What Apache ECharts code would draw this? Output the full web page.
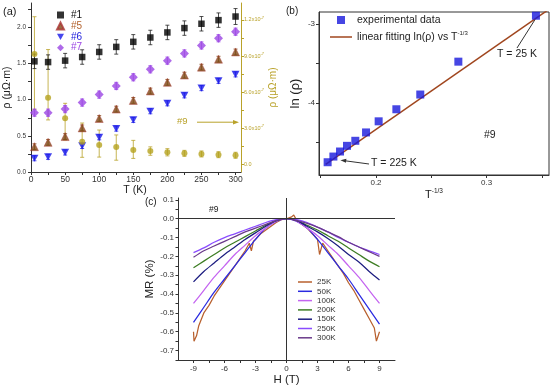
<!DOCTYPE html>
<html><head><meta charset="utf-8">
<script src="https://cdn.jsdelivr.net/npm/echarts@6/dist/echarts.min.js"></script>
<style>html,body{margin:0;padding:0;background:#fff}#c{width:550px;height:392px}</style>
</head><body><div id="c"></div>
<script>
// ---------- Panel (a) data ----------
const temps = [5,25,50,75,100,125,150,175,200,225,250,275,300];
const rho1 = [1.53,1.52,1.54,1.59,1.66,1.73,1.80,1.86,1.93,1.99,2.05,2.10,2.15];
const err1 = [0.10,0.10,0.10,0.10,0.10,0.10,0.10,0.10,0.10,0.10,0.10,0.10,0.11];
const rho5 = [0.35,0.41,0.49,0.61,0.74,0.87,0.99,1.12,1.24,1.34,1.45,1.56,1.66];
const err5 = [0.04,0.04,0.04,0.04,0.04,0.04,0.04,0.04,0.04,0.04,0.04,0.04,0.04];
const rho6 = [0.19,0.21,0.27,0.36,0.48,0.60,0.72,0.84,0.95,1.06,1.16,1.26,1.35];
const err6 = [0.035,0.035,0.035,0.035,0.035,0.035,0.035,0.035,0.035,0.035,0.035,0.035,0.035];
const rho7 = [0.82,0.82,0.87,0.96,1.07,1.19,1.31,1.42,1.54,1.64,1.75,1.85,1.94];
const err7 = [0.05,0.05,0.05,0.05,0.05,0.05,0.05,0.05,0.05,0.05,0.05,0.05,0.05];
const rho9 = [9.17,5.54,3.82,1.88,1.60,1.44,1.19,1.10,1.00,0.91,0.86,0.80,0.75];
const err9Up = [3.1,4.0,1.25,1.55,1.25,1.0,0.8,0.35,0.3,0.25,0.25,0.25,0.25];
const err9Dn = [4.6,1.85,1.8,1.3,1.0,1.1,0.7,0.35,0.3,0.25,0.25,0.25,0.25];
const xTicksA = [0,50,100,150,200,250,300];
const yTicksA = [0,0.5,1.0,1.5,2.0];
const rightTicks = [0,3,6,9,12];
const rightLabels = ['0.0','3.0x10','6.0x10','9.0x10','1.2x10'];

// ---------- Panel (b) data ----------
const invT = [0.1563,0.1615,0.1675,0.1738,0.1813,0.1910,0.2024,0.2184,0.2400,0.2744,0.3445];
const lnRho = [-4.753,-4.681,-4.617,-4.545,-4.481,-4.375,-4.234,-4.081,-3.894,-3.477,-2.894];
const fitX = [0.1545,0.3560];
const fitY = [-4.78,-2.815];

// ---------- Panel (c) data ----------
const hField = [-9,-8,-7,-6,-5,-4,-3,-2,-1,0,1,2,3,4,5,6,7,8,9];
const h25 = [-9,-8.95,-8.7,-8.5,-8,-7.5,-7,-6.5,-6,-5.5,-5,-4.5,-4,-3.6,-3.4,-3.2,-3,-2.5,-2,-1.5,-1,-0.5,0,0.5,0.7,1,1.5,2,2.5,3,3.2,3.5,4,4.5,5,5.5,6,6.5,7,7.5,8,8.5,8.7,9];
const mr25 = [-0.60,-0.65,-0.62,-0.57,-0.50,-0.46,-0.41,-0.37,-0.33,-0.29,-0.25,-0.21,-0.17,-0.13,-0.17,-0.12,-0.11,-0.08,-0.06,-0.04,-0.02,-0.005,0,0.01,0.02,-0.01,-0.03,-0.05,-0.08,-0.11,-0.19,-0.13,-0.17,-0.21,-0.25,-0.29,-0.34,-0.38,-0.43,-0.48,-0.53,-0.58,-0.65,-0.60];
const mr50  = [-0.55,-0.47,-0.39,-0.32,-0.25,-0.18,-0.11,-0.05,-0.015,0,-0.015,-0.05,-0.11,-0.18,-0.25,-0.32,-0.40,-0.48,-0.56];
const mr100 = [-0.45,-0.38,-0.31,-0.25,-0.19,-0.14,-0.09,-0.05,-0.015,0,-0.015,-0.05,-0.09,-0.14,-0.19,-0.25,-0.31,-0.38,-0.45];
const mr200 = [-0.26,-0.225,-0.19,-0.155,-0.125,-0.095,-0.065,-0.035,-0.01,0,-0.01,-0.035,-0.06,-0.09,-0.12,-0.155,-0.19,-0.225,-0.255];
const mr150 = [-0.335,-0.28,-0.235,-0.19,-0.15,-0.11,-0.075,-0.04,-0.01,0,-0.01,-0.04,-0.07,-0.105,-0.145,-0.19,-0.23,-0.28,-0.325];
const mr250 = [-0.18,-0.155,-0.125,-0.10,-0.08,-0.06,-0.04,-0.02,-0.005,0,-0.005,-0.02,-0.045,-0.07,-0.10,-0.125,-0.15,-0.17,-0.19];
const mr300 = [-0.205,-0.17,-0.145,-0.12,-0.095,-0.07,-0.05,-0.03,-0.01,0,-0.01,-0.025,-0.045,-0.07,-0.095,-0.125,-0.15,-0.175,-0.20];
const mrNames = ['25K','50K','100K','200K','150K','250K','300K'];

const FONT = 'Liberation Sans, Arial, sans-serif';
const GOLD = '#b9a22a';
const chart = echarts.init(document.getElementById('c'), null, {renderer:'canvas'});

function errRender(params, api) {
  const x = api.value(0), lo = api.value(1), hi = api.value(2);
  const p1 = api.coord([x, hi]), p2 = api.coord([x, lo]);
  const w = 2;
  const style = {stroke: api.visual('color'), lineWidth: 0.8};
  return {type:'group', children:[
    {type:'line', shape:{x1:p1[0],y1:p1[1],x2:p2[0],y2:p2[1]}, style},
    {type:'line', shape:{x1:p1[0]-w,y1:p1[1],x2:p1[0]+w,y2:p1[1]}, style},
    {type:'line', shape:{x1:p2[0]-w,y1:p2[1],x2:p2[0]+w,y2:p2[1]}, style}]};
}
function errSeries(vals, up, dn, color, yIdx) {
  return {type:'custom', renderItem: errRender, xAxisIndex:0, yAxisIndex:yIdx,
    itemStyle:{color}, encode:{x:0, y:[1,2]}, silent:true, z:1,
    data: temps.map((t,i)=>[t, vals[i]-dn[i], vals[i]+up[i]])};
}
const pairs = (xs, ys) => xs.map((x,i)=>[x, ys[i]]);
const downTri = 'path://M0,0 L10,0 L5,9 Z';

const mrColors = ['#b8602e','#2a2ae0','#c464f0','#3d7d23','#1c1c80','#8a4cff','#6a3a8a'];
const mrData = [pairs(h25,mr25), pairs(hField,mr50), pairs(hField,mr100), pairs(hField,mr200), pairs(hField,mr150), pairs(hField,mr250), pairs(hField,mr300)];

const series = [
  errSeries(rho9, err9Up, err9Dn, GOLD, 1),
  errSeries(rho1, err1, err1, '#222', 0),
  errSeries(rho5, err5, err5, '#8a4b1c', 0),
  errSeries(rho6, err6, err6, '#2020e8', 0),
  errSeries(rho7, err7, err7, '#a455e8', 0),
  {name:'#1', type:'scatter', xAxisIndex:0, yAxisIndex:0, symbol:'rect', symbolSize:6.5, symbolKeepAspect:true, itemStyle:{color:'#000'}, data:pairs(temps,rho1), z:3},
  {name:'#5', type:'scatter', xAxisIndex:0, yAxisIndex:0, symbol:'triangle', symbolSize:8, symbolKeepAspect:true, itemStyle:{color:'#7d4a16', borderColor:'#a33', borderWidth:0.5}, data:pairs(temps,rho5), z:3},
  {name:'#6', type:'scatter', xAxisIndex:0, yAxisIndex:0, symbol:downTri, symbolSize:8, symbolKeepAspect:true, itemStyle:{color:'#1818e8'}, data:pairs(temps,rho6), z:3},
  {name:'#7', type:'scatter', xAxisIndex:0, yAxisIndex:0, symbol:'diamond', symbolSize:9, symbolKeepAspect:true, itemStyle:{color:'#9b45e4'}, data:pairs(temps,rho7), z:3},
  {name:'#9', type:'scatter', xAxisIndex:0, yAxisIndex:1, symbol:'circle', symbolSize:6, itemStyle:{color:'#b5a21e'}, data:pairs(temps,rho9), z:3},
  {name:'experimental data', type:'scatter', xAxisIndex:1, yAxisIndex:2, symbol:'rect', symbolSize:8, symbolKeepAspect:true, itemStyle:{color:'#1818dc'}, data:pairs(invT,lnRho), z:3},
  {name:'fit', type:'line', xAxisIndex:1, yAxisIndex:2, symbol:'none', lineStyle:{color:'#a0461e', width:1.5}, itemStyle:{color:'#a0461e'}, data:pairs(fitX,fitY), z:2},
];
mrNames.forEach((n,i)=>{
  const s = {name:n, type:'line', xAxisIndex:2, yAxisIndex:3, symbol:'none', smooth: i===0?false:0.3,
    lineStyle:{color:mrColors[i], width:1.25}, itemStyle:{color:mrColors[i]}, data:mrData[i], z:2};
  if (i===0) s.markLine = {silent:true, symbol:['none','none'], animation:false, label:{show:false},
    lineStyle:{color:'#333', type:'solid', width:1}, data:[{xAxis:0},{yAxis:0}]};
  series.push(s);
});

const lblA = {fontFamily:FONT, color:'#333'};
const option = {
  animation:false,
  textStyle:{fontFamily:FONT},
  grid:[
    {left:29, top:3, width:212, height:169, show:false},
    {left:319, top:12, width:230, height:163, show:true, borderColor:'#333', borderWidth:1},
    {left:178, top:198, width:217, height:162, show:false}
  ],
  xAxis:[
    {gridIndex:0, type:'value', min:-3, max:308, name:'T (K)', nameLocation:'middle', nameGap:13,
     nameTextStyle:{fontSize:10.5, color:'#222'}, splitLine:{show:false},
     axisLine:{lineStyle:{color:'#333'}}, axisTick:{customValues:[0,25,50,75,100,125,150,175,200,225,250,275,300], length:3, lineStyle:{color:'#333'}},
     axisLabel:{customValues:xTicksA, fontSize:8.5, margin:3, ...lblA}},
    {gridIndex:1, type:'value', min:0.1485, max:0.3563, splitLine:{show:false},
     name:'{t|T}{s|-1/3}', nameLocation:'middle', nameGap:10,
     nameTextStyle:{rich:{t:{fontSize:11, color:'#222', fontFamily:FONT}, s:{fontSize:6.5, color:'#222', fontFamily:FONT, padding:[0,0,7,0]}}},
     axisLine:{lineStyle:{color:'#333'}}, axisTick:{customValues:[0.15,0.2,0.25,0.3,0.35], length:3, lineStyle:{color:'#333'}},
     axisLabel:{customValues:[0.2,0.3], fontSize:8, margin:4, ...lblA, formatter:v=>v.toFixed(1)}},
    {gridIndex:2, type:'value', min:-10.5, max:10.5, splitLine:{show:false},
     name:'H (T)', nameLocation:'middle', nameGap:14, nameTextStyle:{fontSize:11.5, color:'#222'},
     axisLine:{onZero:false, lineStyle:{color:'#333'}}, axisTick:{customValues:[-9,-7.5,-6,-4.5,-3,-1.5,0,1.5,3,4.5,6,7.5,9], length:3, lineStyle:{color:'#333'}},
     axisLabel:{customValues:[-9,-6,-3,0,3,6,9], fontSize:8, margin:5, ...lblA}}
  ],
  yAxis:[
    {gridIndex:0, type:'value', min:0, max:2.337, splitLine:{show:false},
     name:'ρ (μΩ·m)', nameLocation:'middle', nameGap:15, nameRotate:90, nameTextStyle:{fontSize:10.5, color:'#222'},
     axisLine:{show:true, lineStyle:{color:'#333'}},
     axisTick:{show:true, customValues:[0,0.25,0.5,0.75,1,1.25,1.5,1.75,2,2.25], length:3, lineStyle:{color:'#333'}},
     axisLabel:{customValues:yTicksA, fontSize:6.5, margin:3, ...lblA, formatter:v=>v.toFixed(1)}},
    {gridIndex:0, type:'value', position:'right', min:-0.64, max:13.41, splitLine:{show:false},
     name:'ρ (μΩ·m)', nameLocation:'middle', nameGap:27, nameRotate:90, nameTextStyle:{fontSize:10, color:GOLD},
     axisLine:{show:true, lineStyle:{color:GOLD}}, axisTick:{show:true, customValues:[0,1.5,3,4.5,6,7.5,9,10.5,12], length:3, lineStyle:{color:GOLD}},
     axisLabel:{customValues:rightTicks, margin:3, color:GOLD, fontFamily:FONT, fontSize:5.5,
       formatter:v=>{const i=rightTicks.indexOf(v); return i===0?'{a|0.0}':'{a|'+rightLabels[i]+'}{s|-7}';},
       rich:{a:{fontSize:5.5, color:GOLD, fontFamily:FONT}, s:{fontSize:4, color:GOLD, padding:[0,0,4,0]}}}},
    {gridIndex:1, type:'value', min:-4.915, max:-2.847, splitLine:{show:false},
     name:'ln (ρ)', nameLocation:'middle', nameGap:17, nameRotate:90, nameTextStyle:{fontSize:13, color:'#222'},
     axisLine:{lineStyle:{color:'#333'}}, axisTick:{customValues:[-4.5,-4,-3.5,-3], length:3, lineStyle:{color:'#333'}},
     axisLabel:{customValues:[-4,-3], fontSize:8, margin:4, ...lblA}},
    {gridIndex:2, type:'value', min:-0.75, max:0.11, splitLine:{show:false},
     name:'MR (%)', nameLocation:'middle', nameGap:21, nameRotate:90, nameTextStyle:{fontSize:11.5, color:'#222'},
     axisLine:{onZero:false, lineStyle:{color:'#333'}}, axisTick:{customValues:[-0.75,-0.7,-0.65,-0.6,-0.55,-0.5,-0.45,-0.4,-0.35,-0.3,-0.25,-0.2,-0.15,-0.1,-0.05,0,0.05,0.1], length:2.5, lineStyle:{color:'#333'}},
     axisLabel:{customValues:[-0.7,-0.6,-0.5,-0.4,-0.3,-0.2,-0.1,0,0.1], fontSize:8, margin:4, ...lblA, formatter:v=>v.toFixed(1)}}
  ],
  legend:[
    {orient:'vertical', left:56, top:10, padding:0, itemWidth:7, itemHeight:7, itemGap:0.9,
     textStyle:{fontSize:10, fontFamily:FONT, padding:[0,0,0,2]},
     data:[{name:'#1', textStyle:{color:'#111'}},{name:'#5', textStyle:{color:'#b3622d'}},{name:'#6', textStyle:{color:'#2222dd'}},{name:'#7', textStyle:{color:'#9b45e4'}}]},
    {orient:'vertical', left:337, top:14.5, padding:0, itemWidth:8, itemHeight:8,
     textStyle:{fontSize:10.5, fontFamily:FONT, color:'#222', padding:[0,0,0,7]},
     data:['experimental data']},
    {orient:'vertical', left:330, top:30.5, padding:0, itemWidth:22, itemHeight:1.5, icon:'rect',
     textStyle:{fontSize:10.5, fontFamily:FONT, color:'#222',
       rich:{t:{fontSize:10.5, fontFamily:FONT, color:'#222'}, s:{fontSize:6, fontFamily:FONT, color:'#222', padding:[0,0,7,0]}}},
     formatter:()=>'{t|linear fitting ln(ρ) vs T}{s|-1/3}',
     data:['fit']},
    {orient:'vertical', left:298, top:278, padding:0, itemWidth:14, itemHeight:1.5, icon:'rect', itemGap:1.3,
     textStyle:{fontSize:8, fontFamily:FONT, color:'#333'}, data:mrNames}
  ],
  series
};
chart.setOption(option);

// annotations positioned through the axes
const pA = (v, yi) => chart.convertToPixel({xAxisIndex:0, yAxisIndex:yi}, v);
const pB = v => chart.convertToPixel({xAxisIndex:1, yAxisIndex:2}, v);
const p25 = pB([invT[10], lnRho[10]]);
const p225 = pB([invT[1], lnRho[1]]);
const arrowY = pA([0, 3.5], 1)[1];
function arrowHead(x, y, dir, color) {
  return {type:'polygon', shape:{points:[[x,y],[x-dir*6,y-2.2],[x-dir*6,y+2.2]]}, style:{fill:color}};
}
const g = [
  {type:'text', left:3, top:6, style:{text:'(a)', fontSize:11, fontFamily:FONT, fill:'#222'}},
  {type:'text', left:286, top:6, style:{text:'(b)', fontSize:10, fontFamily:FONT, fill:'#222'}},
  {type:'text', left:145, top:197, style:{text:'(c)', fontSize:10, fontFamily:FONT, fill:'#222'}},
  {type:'text', left:177, top:arrowY-6, style:{text:'#9', fontSize:9.5, fontFamily:FONT, fill:GOLD}},
  {type:'line', shape:{x1:197, y1:arrowY, x2:234, y2:arrowY}, style:{stroke:GOLD, lineWidth:1}},
  arrowHead(239, arrowY, 1, GOLD),
  {type:'text', left:484, top:130, style:{text:'#9', fontSize:10.5, fontFamily:FONT, fill:'#222'}},
  {type:'text', left:209, top:205, style:{text:'#9', fontSize:8.5, fontFamily:FONT, fill:'#222'}},
  {type:'text', left:497, top:49, style:{text:'T = 25 K', fontSize:10.5, fontFamily:FONT, fill:'#222'}},
  {type:'line', shape:{x1:517, y1:48, x2:p25[0]-1, y2:p25[1]+4}, style:{stroke:'#333', lineWidth:1}},
  {type:'text', left:371, top:158, style:{text:'T = 225 K', fontSize:10.5, fontFamily:FONT, fill:'#222'}},
  {type:'line', shape:{x1:369, y1:164, x2:p225[0]+10, y2:p225[1]+4}, style:{stroke:'#333', lineWidth:1}},
  {type:'polygon', shape:{points:[[p225[0]+7, p225[1]+3.6],[p225[0]+13, p225[1]+2.2],[p225[0]+12.5, p225[1]+6.2]]}, style:{fill:'#333'}}
];
chart.setOption({graphic:g});
</script>
</body></html>
